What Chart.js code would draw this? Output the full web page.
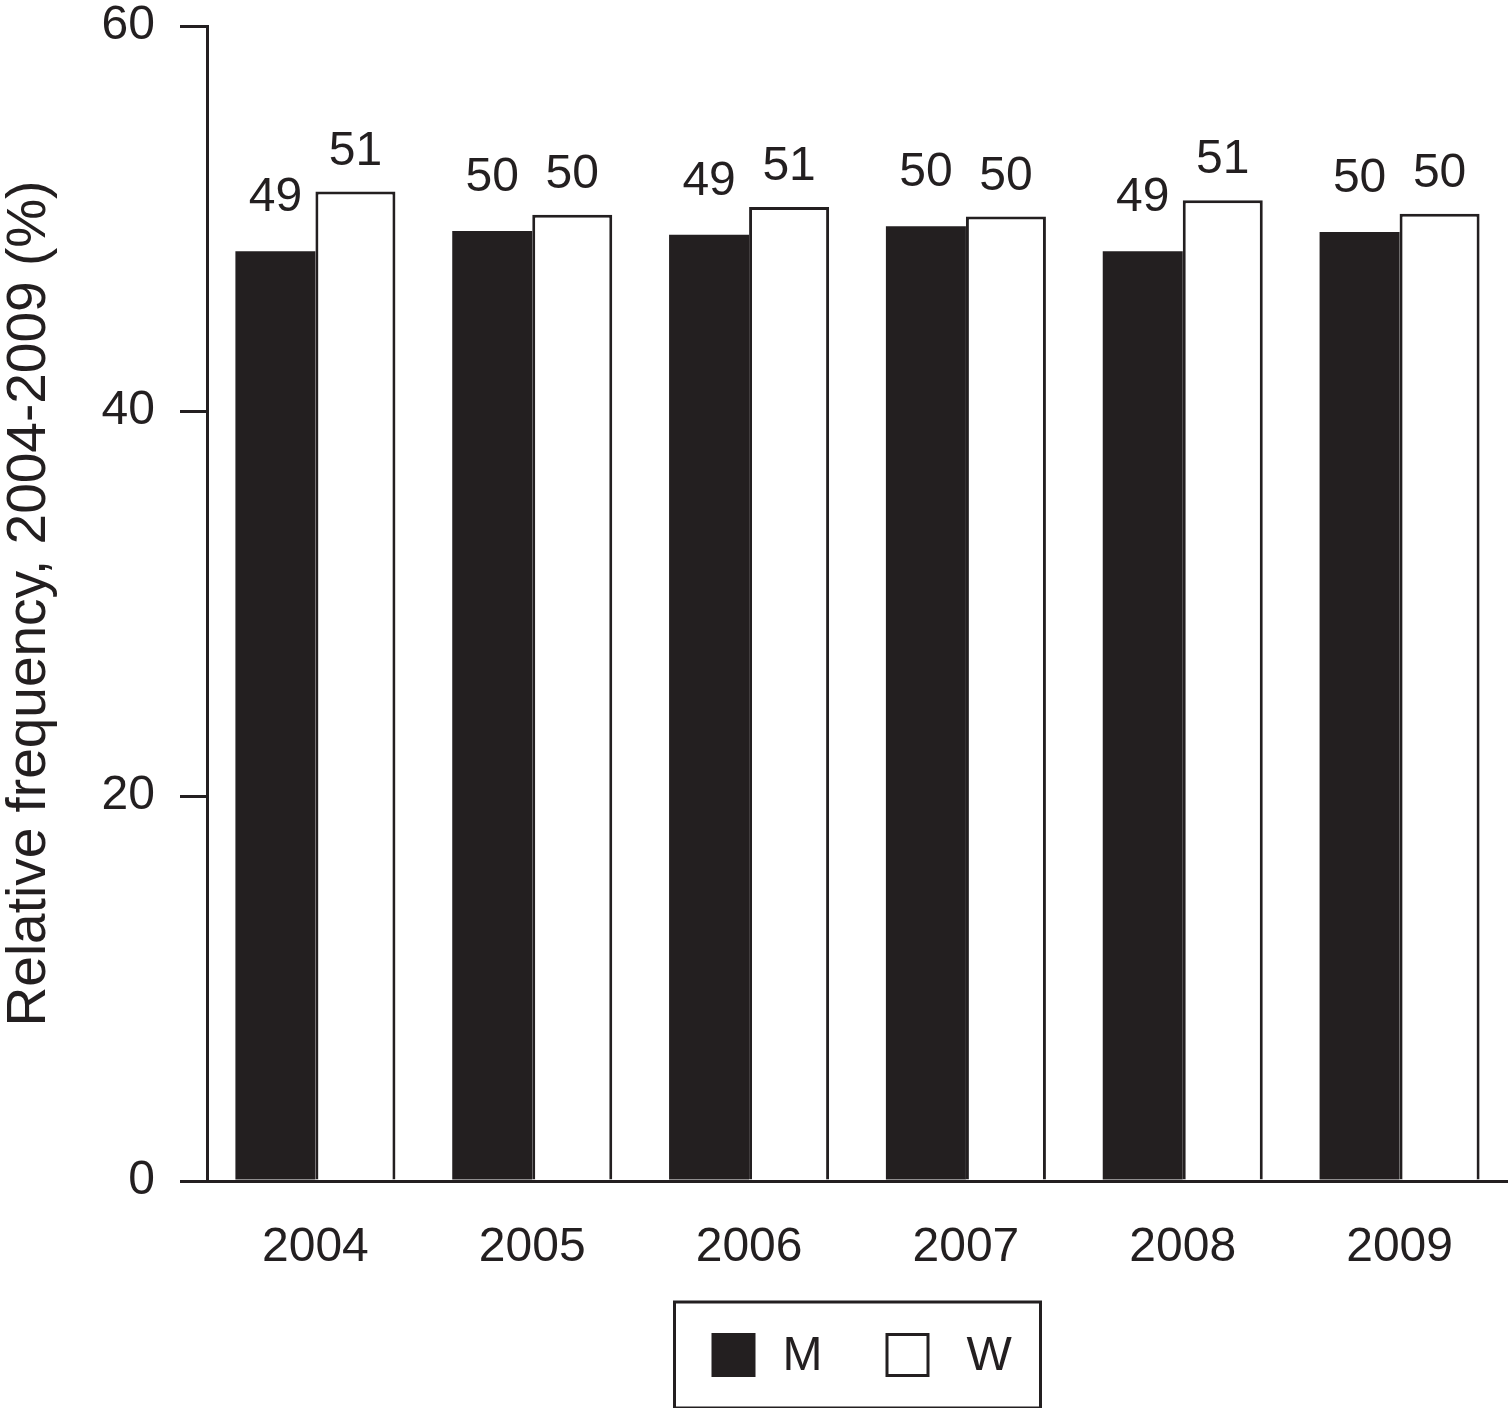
<!DOCTYPE html>
<html>
<head>
<meta charset="utf-8">
<script src="https://cdn.jsdelivr.net/npm/chart.js@4/dist/chart.umd.min.js"></script>
<style>
  html, body { margin: 0; padding: 0; background: #ffffff; }
  #wrap { width: 1508px; height: 1408px; }
</style>
</head>
<body>
<div id="wrap"><canvas id="c" width="1508" height="1408"></canvas></div>
<script>
const categories = ['2004', '2005', '2006', '2007', '2008', '2009'];
const seriesNames = ['M', 'W'];
const menValues = [48.3, 49.35, 49.15, 49.6, 48.3, 49.3];
const womenValues = [51.4, 50.2, 50.6, 50.1, 50.95, 50.25];
const menLabels = ['49', '50', '49', '50', '49', '50'];
const womenLabels = ['51', '50', '51', '50', '51', '50'];
const yTicks = [0, 20, 40, 60];
const yTitle = 'Relative frequency, 2004-2009 (%)';

const INK = '#231f20';
const FONT = "'Liberation Sans', Arial, Helvetica, sans-serif";
const TEXT_SIZE = 48;

const valueLabelPlugin = {
  id: 'valueLabels',
  afterDatasetsDraw(chart) {
    const ctx = chart.ctx;
    const texts = [menLabels, womenLabels];
    const offsets = [40, 27];
    ctx.save();
    ctx.fillStyle = INK;
    ctx.font = TEXT_SIZE + 'px ' + FONT;
    ctx.textAlign = 'center';
    ctx.textBaseline = 'alphabetic';
    chart.data.datasets.forEach((ds, di) => {
      const meta = chart.getDatasetMeta(di);
      meta.data.forEach((el, i) => {
        ctx.fillText(texts[di][i], el.x, el.y - offsets[di]);
      });
    });
    ctx.restore();
  }
};

const boxLegendPlugin = {
  id: 'boxLegend',
  afterDraw(chart) {
    const ctx = chart.ctx;
    const area = chart.chartArea;
    const boxW = 366, boxH = 106;
    const left = (area.left + area.right) / 2 - boxW / 2;
    const top = area.bottom + 121;
    ctx.save();
    ctx.lineWidth = 3;
    ctx.strokeStyle = INK;
    ctx.strokeRect(left, top, boxW, boxH);
    const sq = 44;
    const cy = top + 53;
    const items = [
      { sx: 37, tx: 108 },
      { sx: 211, tx: 292 }
    ];
    ctx.font = TEXT_SIZE + 'px ' + FONT;
    ctx.textBaseline = 'middle';
    ctx.textAlign = 'left';
    chart.data.datasets.forEach((ds, i) => {
      const it = items[i];
      const x = left + it.sx;
      const y = cy - sq / 2;
      ctx.fillStyle = ds.backgroundColor;
      ctx.fillRect(x, y, sq, sq);
      if (ds.borderWidth) {
        ctx.lineWidth = ds.borderWidth;
        ctx.strokeStyle = ds.borderColor;
        ctx.strokeRect(x + 1.5, y + 1.5, sq - 3, sq - 3);
      }
      ctx.fillStyle = INK;
      ctx.fillText(ds.label, left + it.tx, cy + 2);
    });
    ctx.restore();
  }
};

new Chart(document.getElementById('c'), {
  type: 'bar',
  data: {
    labels: categories,
    datasets: [
      {
        label: seriesNames[0],
        data: menValues,
        backgroundColor: INK,
        borderWidth: 0,
        categoryPercentage: 0.738,
        barPercentage: 1.0
      },
      {
        label: seriesNames[1],
        data: womenValues,
        backgroundColor: '#ffffff',
        borderColor: INK,
        borderWidth: 3,
        categoryPercentage: 0.738,
        barPercentage: 1.0
      }
    ]
  },
  options: {
    responsive: false,
    animation: false,
    devicePixelRatio: 1,
    layout: { padding: { top: 0, right: 0, bottom: 0, left: 0 } },
    plugins: {
      legend: { display: false },
      tooltip: { enabled: false }
    },
    scales: {
      x: {
        grid: { display: false },
        border: { display: true, color: INK, width: 3 },
        ticks: {
          color: INK,
          font: { family: FONT, size: TEXT_SIZE },
          padding: 30,
          maxRotation: 0
        },
        afterFit(scale) { scale.height = 227; }
      },
      y: {
        min: 0,
        max: 60,
        afterBuildTicks(scale) { scale.ticks = yTicks.map(v => ({ value: v })); },
        grid: {
          drawOnChartArea: false,
          drawTicks: true,
          tickLength: 27,
          tickWidth: 3,
          tickColor: INK,
          color: INK,
          lineWidth: 3
        },
        border: { display: true, color: INK, width: 3 },
        ticks: {
          color: INK,
          font: { family: FONT, size: TEXT_SIZE },
          padding: 25
        },
        title: {
          display: true,
          text: yTitle,
          color: INK,
          font: { family: FONT, size: 55, lineHeight: 1.0 },
          padding: { top: 2, bottom: 0 }
        },
        afterFit(scale) {
          scale.width = 207;
          scale.paddingTop = 26;
          scale.paddingBottom = 0;
        }
      }
    }
  },
  plugins: [valueLabelPlugin, boxLegendPlugin]
});
</script>
</body>
</html>
